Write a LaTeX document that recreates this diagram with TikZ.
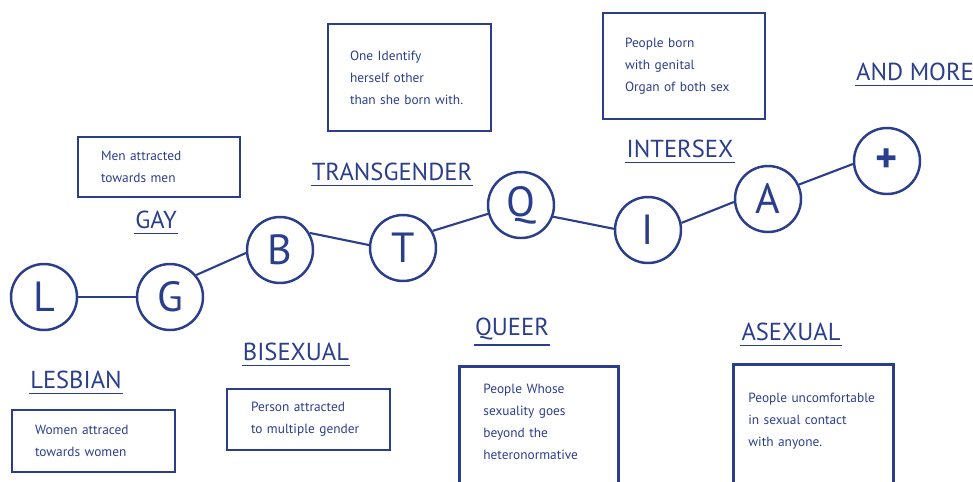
\documentclass[tikz,border=0pt]{standalone}
\usepackage{fontspec}
\setmainfont{PT Sans}
\definecolor{ink}{RGB}{43,62,140}
\begin{document}
\begin{tikzpicture}[x=0.02cm, y=-0.02cm, ink,
  letter/.style={circle, draw, line width=1.4pt, minimum size=1.32cm, inner sep=0pt, font=\fontsize{24}{24}\selectfont},
  link/.style={line width=1.2pt},
  tag/.style={font=\fontsize{14}{16}\selectfont, inner xsep=0.5pt, inner ysep=2.5pt,
    append after command={(\tikzlastnode.south west) edge[line width=0.9pt] (\tikzlastnode.south east)}},
  card/.style={draw, rectangle, line width=1.6pt, align=left, inner ysep=0pt, inner xsep=0.46cm, text width=2.32cm, font=\fontsize{7.6}{12.5}\selectfont}]
\useasboundingbox (0,0) rectangle (973,481);
% the letters
\node[letter] (L) at (44,297) {L};
\node[letter] (G) at (170,297) {G};
\node[letter] (B) at (280,250) {B};
\node[letter] (T) at (403,248) {T};
\node[letter] (Q) at (521,205) {Q};
\node[letter] (I) at (648,230) {I};
\node[letter] (A) at (768,199) {A};
\node[letter] (more) at (887,161) {\textbf{+}};
\draw[link] (L) -- (G);
\draw[link] (G.40) -- (B.185);
\draw[link] (B.30) -- (T.175);
\draw[link] (T.30) -- (Q.195);
\draw[link] (Q.340) -- (I.178);
\draw[link] (I.12) -- (A.185);
\draw[link] (A.25) -- (more.185);
% the names
\node[tag] (gay) at (156,220) {GAY};
\node[tag] (lesbian) at (76,380) {LESBIAN};
\node[tag] (bisexual) at (296,352) {BISEXUAL};
\node[tag] (transgender) at (392,172) {TRANSGENDER};
\node[tag] (queer) at (512,329) {QUEER};
\node[tag] (intersex) at (680,149) {INTERSEX};
\node[tag] (asexual) at (791,332) {ASEXUAL};
\node[tag] (andmore) at (915,72) {AND MORE};
% the boxes
\node[card, minimum height=1.2cm] (gaybox) at (159,167) {Men attracted\\towards men};
\node[card, minimum height=1.24cm, text width=2.34cm] (lesbianbox) at (93.5,441) {Women attraced\\towards women};
\node[card, minimum height=1.22cm, inner xsep=0.48cm, text width=2.3cm] (bisexualbox) at (308.5,419.5) {Person attracted\\to multiple gender};
\node[card, minimum height=2.14cm, inner xsep=0.44cm, text width=2.38cm] (transgenderbox) at (409.5,77.5) {One Identify\\herself other\\than she born with.};
\node[card, minimum height=2.12cm, inner xsep=0.44cm, text width=2.36cm] (intersexbox) at (684,66) {People born\\with genital\\Organ of both sex};
\node[card, anchor=north west, inner xsep=0.48cm, text width=2.22cm, inner ysep=0.36cm, text depth=3cm] (queerbox) at (458,365) {People Whose\\sexuality goes\\beyond the\\heteronormative};
\node[card, anchor=north west, inner xsep=0.3cm, text width=2.6cm, inner ysep=0.57cm, text depth=3cm] (asexualbox) at (732,363) {People uncomfortable\\in sexual contact\\with anyone.};
\end{tikzpicture}
\end{document}
